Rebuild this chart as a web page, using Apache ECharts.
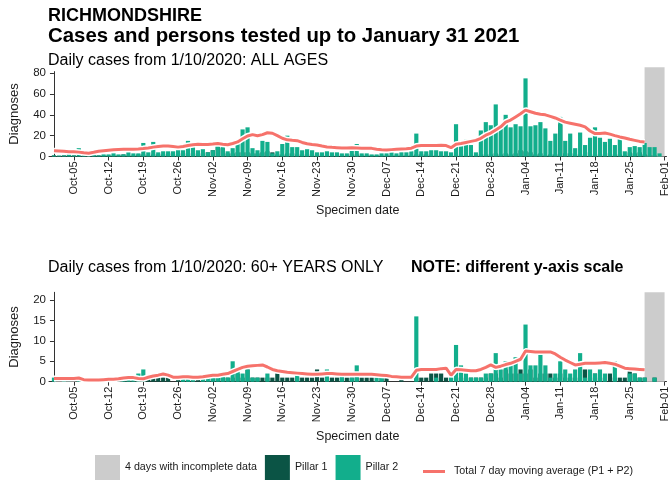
<!DOCTYPE html>
<html>
<head>
<meta charset="utf-8">
<script src="https://cdn.jsdelivr.net/npm/echarts@6/dist/echarts.min.js"></script>
<style>
html, body { margin: 0; padding: 0; background: #ffffff; }
#chart { width: 670px; height: 483px; }
</style>
</head>
<body>
<div id="chart"></div>
<script>
// Day index 0 = 1 October 2020; one value per specimen date.
const weekLabels = ['Oct-05', 'Oct-12', 'Oct-19', 'Oct-26', 'Nov-02', 'Nov-09', 'Nov-16', 'Nov-23',
  'Nov-30', 'Dec-07', 'Dec-14', 'Dec-21', 'Dec-28', 'Jan-04', 'Jan-11', 'Jan-18', 'Jan-25', 'Feb-01'];
const firstMonday = 4;          // Oct-05 is day 4
const incompleteFrom = 119;     // 28 Jan: last 4 days with incomplete data
const incompleteTo = 123;

// All ages: daily diagnoses by pillar, and 7 day moving average of the total
const allPillar1 = [
  1,0,1,1,1,0,1,0,1,1,
  1,1,1,1,2,1,1,2,2,1,
  2,2,2,3,2,3,3,3,3,3,
  3,4,6,10,8,3,3,4,4,4,
  3,3,4,5,4,2,2,3,3,2,
  2,2,2,2,1,1,1,1,1,1,
  2,2,1,1,1,1,1,1,1,1,
  1,1,1,2,2,2,1,1,1,1,
  1,2,1,2,1,1,2,2,2,3,
  2,3,2,3,6,5,4,2,3,1,
  2,2,31,3,3,2,2,4,2,2,
  2,2,3,2,2,1,4,3,4,2,
  1,1,0
];
const allPillar2 = [
  1,1,1,2,1,8,1,1,6,1,
  2,2,3,2,2,4,3,3,13,4,
  14,4,5,5,5,6,6,15,13,6,
  7,4,6,11,11,5,8,15,26,28,
  8,6,15,14,3,5,12,20,9,9,
  6,7,6,4,4,5,4,4,3,3,
  7,12,3,3,2,2,3,3,4,3,
  4,4,5,22,5,5,6,6,5,5,
  4,31,10,16,11,4,25,33,30,50,
  29,40,28,31,29,75,29,30,33,27,
  15,22,38,15,22,8,23,11,18,28,
  18,14,17,11,18,5,9,10,9,13,
  9,9,3
];
const allAverage = [
  5.5,5.3,5.0,4.6,4.5,4.2,3.5,3.2,4.0,5.0,
  5.5,6.0,6.5,6.8,7.0,7.0,7.0,7.3,7.7,8.2,
  9.0,9.6,10.0,10.0,9.5,9.0,9.6,10.5,11.3,11.7,
  11.6,11.6,11.9,12.5,11.8,11.3,12.5,14.0,17.0,19.7,
  21.0,20.0,21.0,22.8,22.3,20.0,17.5,16.0,15.5,15.2,
  13.5,12.2,11.5,11.0,10.0,9.2,8.8,8.5,8.2,8.1,
  8.3,8.2,8.0,7.9,7.8,7.0,6.5,6.3,6.6,6.9,
  7.2,7.4,8.0,10.0,10.5,10.5,10.5,10.5,10.8,10.5,
  8.5,11.8,12.5,13.5,14.5,15.5,17.5,20.5,22.5,25.5,
  28.5,33.0,35.0,38.0,41.0,44.5,43.0,41.5,40.5,40.0,
  38.5,37.0,35.0,33.0,32.0,31.0,30.0,28.5,24.5,22.0,
  22.0,22.5,21.5,20.0,18.8,17.8,16.5,15.5,14.5,14.0
];

// 60+ years only
const olderPillar1 = [
  0,0,0,1,0,0,0,0,0,0,
  0,0,0,1,0,0,0,0,1,1,
  1,1,1,1,0,1,1,1,0,1,
  0,0,1,1,1,1,1,2,1,3,
  1,1,1,1,1,2,1,1,1,1,
  1,1,1,3,1,1,1,1,1,1,
  1,1,1,1,1,0,1,1,0,0,
  1,0,0,1,1,1,2,2,2,1,
  0,1,1,1,1,1,1,1,2,2,
  1,3,2,2,3,2,3,1,2,2,
  2,1,2,1,1,1,3,3,1,2,
  1,1,2,1,1,1,3,2,1,1,
  0,1,0
];
const olderPillar2 = [
  1,0,1,0,0,1,0,0,1,0,
  1,0,1,0,1,1,1,2,3,0,
  0,0,0,0,0,0,1,1,1,0,
  1,1,2,2,2,1,5,3,2,3,
  1,1,0,2,0,0,0,0,0,2,
  0,0,0,0,0,3,0,0,2,0,
  1,4,0,0,0,1,2,0,0,0,
  0,0,0,16,0,0,0,1,0,0,
  1,9,4,2,1,1,1,2,2,7,
  3,5,4,6,2,14,4,4,8,4,
  1,2,5,3,2,3,7,1,3,2,
  3,2,0,5,0,0,2,2,1,1,
  0,1,0
];
const olderAverage = [
  0.8,0.8,0.8,0.8,0.8,0.9,0.5,0.4,0.4,0.4,
  0.5,0.6,0.6,0.7,0.9,1.0,1.0,0.8,0.7,1.1,
  1.4,1.6,1.9,1.6,1.1,1.1,1.2,1.2,1.1,1.1,
  1.2,1.4,1.6,1.6,1.8,2.0,2.5,3.0,3.5,3.8,
  3.9,4.0,4.1,3.6,3.0,2.7,2.5,2.3,2.2,2.1,
  2.0,1.9,1.8,1.8,1.9,2.0,2.0,1.9,1.8,1.8,
  1.8,1.8,1.8,1.8,1.8,1.7,1.6,1.5,1.3,1.2,
  1.1,1.1,1.1,2.8,3.0,3.0,3.0,3.0,3.2,3.3,
  1.6,3.0,2.9,2.8,2.7,2.7,3.0,3.5,4.1,3.5,
  3.8,4.2,4.5,5.0,5.5,7.5,7.4,7.3,7.3,7.3,
  7.3,6.8,6.0,5.3,4.7,4.1,4.3,4.5,4.5,4.5,
  4.6,4.7,4.5,4.3,3.8,3.3,3.2,3.1,3.0,2.9
];

const allTicks = [0, 20, 40, 60, 80];
const olderTicks = [0, 5, 10, 15, 20];

const FONT = "'Liberation Sans', Arial, Helvetica, sans-serif";
const INK = '#1a1a1a';
const C_P1 = '#0b5445';
const C_P2 = '#12ae8c';
const C_AVG = '#f6726b';
const C_GREY = '#cccccc';
const AVG_NAME = 'Total 7 day moving average (P1 + P2)';

const pairs = arr => arr.map((v, i) => [i, v]);
const tickDays = weekLabels.map((_, i) => firstMonday + 7 * i);
const labelOf = {};
tickDays.forEach((d, i) => { labelOf[d] = weekLabels[i]; });

function dayAxis(gridIndex, visible) {
  return {
    type: 'value', gridIndex, min: -1, max: 123.4,
    show: visible,
    splitLine: { show: false },
    axisLine: { show: visible, onZero: false, lineStyle: { color: '#333', width: 1 } },
    axisTick: { show: visible, customValues: tickDays, length: 4, lineStyle: { color: '#333' } },
    axisLabel: {
      show: visible, customValues: tickDays, rotate: 90, margin: 5,
      fontFamily: FONT, fontSize: 11, color: INK,
      formatter: v => labelOf[v] || ''
    },
    name: visible ? 'Specimen date' : '',
    nameLocation: 'middle', nameGap: 48,
    nameTextStyle: { fontFamily: FONT, fontSize: 12.5, color: INK }
  };
}

function countAxis(gridIndex, max, ticks) {
  return {
    type: 'value', gridIndex, min: 0, max,
    splitLine: { show: false },
    axisLine: { show: true, lineStyle: { color: '#333', width: 1 } },
    axisTick: { show: true, customValues: ticks, length: 4, lineStyle: { color: '#333' } },
    axisLabel: { customValues: ticks, margin: 3, fontFamily: FONT, fontSize: 11.5, color: INK },
    name: 'Diagnoses', nameLocation: 'middle', nameRotate: 90, nameGap: 28,
    nameTextStyle: { fontFamily: FONT, fontSize: 13, color: INK }
  };
}

function panelSeries(p, pillar1, pillar2, average, shadeTop) {
  const xi = p, yi = p, xs = p + 2;
  return [
    {
      name: '4 days with incomplete data', type: 'bar',
      xAxisIndex: xs, yAxisIndex: yi, barWidth: 20, clip: false, z: 1,
      itemStyle: { color: C_GREY }, silent: true,
      data: [[(incompleteFrom + incompleteTo) / 2, shadeTop]]
    },
    {
      name: 'Pillar 1', type: 'bar', stack: 'cases' + p,
      xAxisIndex: xi, yAxisIndex: yi, barWidth: '84%', z: 2,
      itemStyle: { color: C_P1 }, data: pairs(pillar1)
    },
    {
      name: 'Pillar 2', type: 'bar', stack: 'cases' + p,
      xAxisIndex: xi, yAxisIndex: yi, barWidth: '84%', z: 2,
      itemStyle: { color: C_P2 }, data: pairs(pillar2)
    },
    {
      name: 'halo' + p, type: 'line', xAxisIndex: xi, yAxisIndex: yi,
      symbol: 'none', z: 3, silent: true,
      lineStyle: { color: '#ffffff', width: 6 }, data: pairs(average)
    },
    {
      name: AVG_NAME, type: 'line',
      xAxisIndex: xi, yAxisIndex: yi, symbol: 'none', z: 4,
      lineStyle: { color: C_AVG, width: 3 }, itemStyle: { color: C_AVG },
      data: pairs(average)
    }
  ];
}

const chart = echarts.init(document.getElementById('chart'), null, { renderer: 'canvas' });
chart.setOption({
  animation: false,
  backgroundColor: '#ffffff',
  textStyle: { fontFamily: FONT },
  title: [
    { text: 'RICHMONDSHIRE', left: 48, top: 7, padding: 0,
      textStyle: { fontFamily: FONT, fontSize: 18, fontWeight: 'bold', color: '#000' } },
    { text: 'Cases and persons tested up to January 31 2021', left: 48, top: 26, padding: 0,
      textStyle: { fontFamily: FONT, fontSize: 20.4, fontWeight: 'bold', color: '#000' } },
    { text: 'Daily cases from 1/10/2020: ALL AGES', left: 48, top: 53, padding: 0,
      textStyle: { fontFamily: FONT, fontSize: 16, fontWeight: 'normal', color: '#000' } },
    { text: 'Daily cases from 1/10/2020: 60+ YEARS ONLY', left: 48, top: 260, padding: 0,
      textStyle: { fontFamily: FONT, fontSize: 16, fontWeight: 'normal', color: '#000' } },
    { text: 'NOTE: different y-axis scale', left: 411, top: 260, padding: 0,
      textStyle: { fontFamily: FONT, fontSize: 16, fontWeight: 'bold', color: '#000' } }
  ],
  legend: [
    {
      data: [
        { name: '4 days with incomplete data', icon: 'rect' },
        { name: 'Pillar 1', icon: 'rect' },
        { name: 'Pillar 2', icon: 'rect' }
      ],
      left: 95, top: 455, padding: 0, itemWidth: 25, itemHeight: 25, itemGap: 8,
      selectedMode: false,
      textStyle: { fontFamily: FONT, fontSize: 10.7, color: INK }
    },
    {
      data: [{ name: AVG_NAME, icon: 'rect' }],
      left: 423, top: 466, padding: 0, itemWidth: 22, itemHeight: 3,
      selectedMode: false,
      textStyle: { fontFamily: FONT, fontSize: 10.7, color: INK, padding: [0, 0, 0, 4] }
    }
  ],
  grid: [
    { left: 48, width: 622, top: 71.6, height: 84.9 },
    { left: 48, width: 622, top: 292.3, height: 89.4 }
  ],
  xAxis: [dayAxis(0, true), dayAxis(1, true), dayAxis(0, false), dayAxis(1, false)],
  yAxis: [countAxis(0, 81.5, allTicks), countAxis(1, 21.9, olderTicks)],
  series: [
    ...panelSeries(0, allPillar1, allPillar2, allAverage, 85.6),
    ...panelSeries(1, olderPillar1, olderPillar2, olderAverage, 21.9)
  ]
});
</script>
</body>
</html>
